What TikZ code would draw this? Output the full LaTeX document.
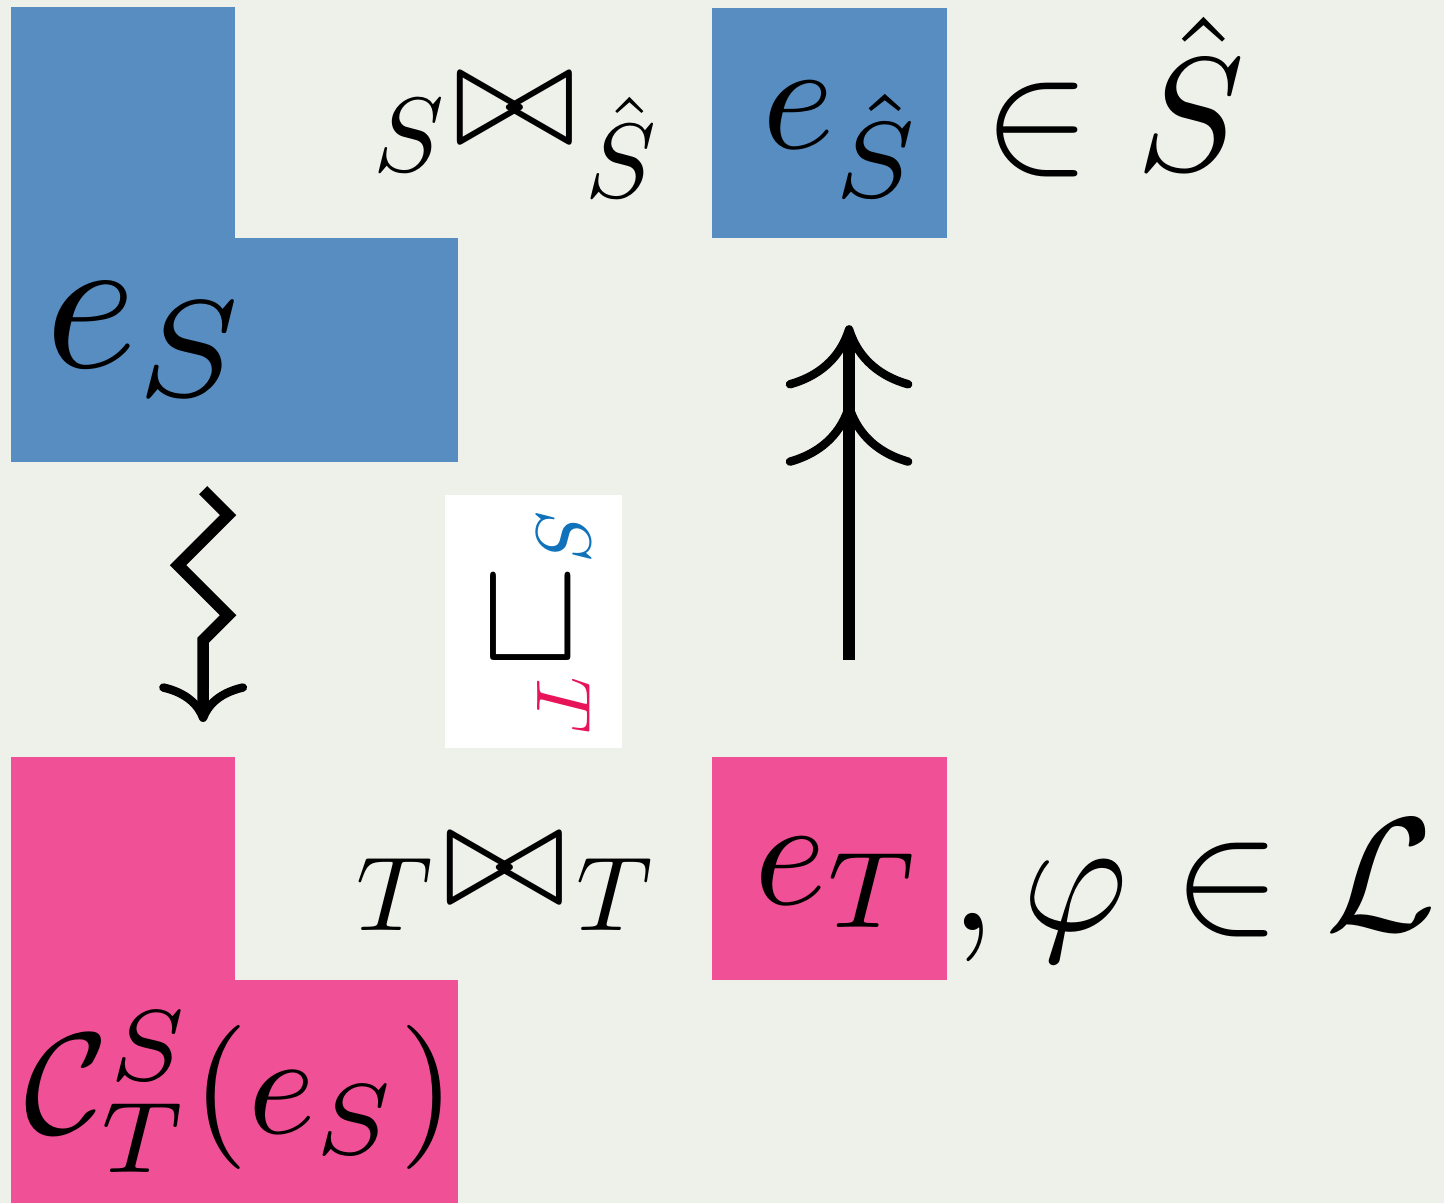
\documentclass[tikz,border=0pt]{standalone}
\usepackage{amsmath, amssymb}
\usepackage{tikz}
\usetikzlibrary{arrows.meta,positioning,decorations.pathmorphing}
\definecolor{bgcol}{RGB}{238,240,234}
\definecolor{cellblue}{RGB}{88,141,193}
\definecolor{cellpink}{RGB}{240,80,150}
\definecolor{labblue}{RGB}{16,114,186}
\definecolor{labpink}{RGB}{232,20,90}

\begin{document}
\begin{tikzpicture}[x=0.01cm, y=-0.01cm]
    \tikzstyle{cell}=[inner sep=0pt, outer sep=0pt, anchor=north west]
    \tikzstyle{lab}=[inner sep=0pt, anchor=base]
    \tikzstyle{squig}=[line width=3.3pt, decorate,
      decoration={zigzag, segment length=1cm, amplitude=0.25cm, post length=0.81cm},
      -{Computer Modern Rightarrow[length=11pt,width=25pt,line width=2.4pt]}]
    \tikzstyle{twohead}=[line width=3.3pt,
      -{Computer Modern Rightarrow[length=18pt,width=36pt,line width=2.4pt,sep=4pt] Computer Modern Rightarrow[length=18pt,width=36pt,line width=2.4pt]}]
    \fill[bgcol] (0,0) rectangle (1444,1203);
    \useasboundingbox (0,0) rectangle (1444,1203);
    % highlighted cells
    \node[cell, fill=cellblue, minimum width=2.24cm, minimum height=2.31cm] (esTop) at (11,7) {};
    \node[cell, fill=cellblue, minimum width=4.47cm, minimum height=2.24cm] (es) at (11,238) {};
    \node[cell, fill=cellblue, minimum width=2.35cm, minimum height=2.30cm] (eshat) at (712,8) {};
    \node[cell, fill=cellpink, minimum width=2.24cm, minimum height=2.23cm] (ctTop) at (11,757) {};
    \node[cell, fill=cellpink, minimum width=4.47cm, minimum height=2.23cm] (ct) at (11,980) {};
    \node[cell, fill=cellpink, minimum width=2.35cm, minimum height=2.23cm] (et) at (712,757) {};
    \node[cell, fill=white, minimum width=1.77cm, minimum height=2.53cm] (inc) at (445,495) {};
    % entries
    \node[lab, scale=5.6] (esLab) at (148,367) {$e_S$};
    \node[lab, scale=4.4] (eshatLab) at (843,148) {$e_{\hat S}$};
    \node[lab, scale=4.4] (etLab) at (839,904) {$e_T$};
    \node[lab, scale=4.1] (ctLab) at (240,1133) {$\mathcal{C}^S_T(e_S)$};
    \node[lab, scale=4.6] (inS) at (1114,170) {$\in \hat S$};
    \node[lab, scale=4.6] (inL) at (1194,930) {$,\varphi \in \mathcal{L}$};
    % join labels
    \node[lab, scale=3] (sA) at (409,172) {$S$};
    \node[inner sep=0pt, scale=4.2] (btA) at (515,110) {$\bowtie$};
    \node[lab, scale=3] (sB) at (621,197) {$\hat S$};
    \node[lab, scale=3] (tA) at (395,930) {$T$};
    \node[inner sep=0pt, scale=4.2] (btB) at (505,870) {$\bowtie$};
    \node[lab, scale=3] (tB) at (615,930) {$T$};
    % inclusion
    \node[inner sep=0pt, scale=4.2] (cup) at (531,619) {$\sqcup$};
    \node[inner sep=0pt, rotate=-90, scale=2.2, text=labblue] (incS) at (564,535) {$S$};
    \node[inner sep=0pt, rotate=-90, scale=2.2, text=labpink] (incT) at (564,705) {$T$};
    % arrows
    \draw[squig] ([xshift=-3.15mm, yshift=-2.8mm]es.south) -- ([xshift=8mm, yshift=3.5mm]ctTop.north);
    \draw[twohead] ([xshift=1.95mm, yshift=9.7mm]et.north) -- ([xshift=1.95mm, yshift=-8.7mm]eshat.south);
\end{tikzpicture}
\end{document}
